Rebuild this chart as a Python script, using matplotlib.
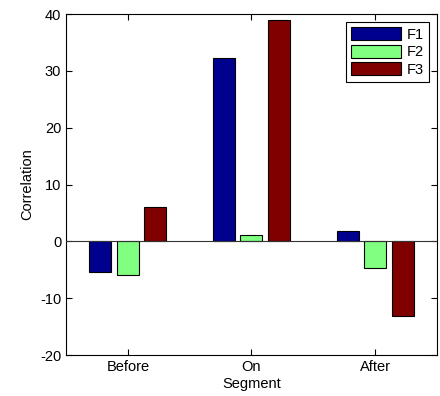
import matplotlib.pyplot as plt
import numpy as np

plt.rcParams['font.family'] = ['Liberation Sans', 'DejaVu Sans']
plt.rcParams['axes.unicode_minus'] = False

segments = ['Before', 'On', 'After']
f1 = [-5.4, 32.3, 1.8]
f2 = [-5.9, 1.2, -4.7]
f3 = [6.0, 39.0, -13.2]
series = [('F1', f1, '#00008F'), ('F2', f2, '#80FF80'), ('F3', f3, '#800000')]

fig = plt.figure(figsize=(4.4, 3.96), dpi=100)
ax = fig.add_axes([0.15, 0.1035, 0.843, 0.861])

x = np.arange(1, len(segments) + 1)
step = 0.2222
for i, (name, vals, col) in enumerate(series):
    ax.bar(x + (i - 1) * step, vals, width=0.178, color=col, edgecolor='black',
           linewidth=0.8, label=name, zorder=2)

ax.axhline(0, color='#333333', linewidth=0.8, zorder=3)

ax.set_xlim(0.5, 3.5)
ax.set_ylim(-20, 40)
ax.set_xticks(x)
ax.set_xticklabels(segments)
ax.set_yticks(np.arange(-20, 41, 10))
ax.tick_params(direction='in', top=True, right=True, labelsize=10.5, length=4)
for s in ax.spines.values():
    s.set_linewidth(0.8)

ax.set_xlabel('Segment', fontsize=10.5, labelpad=2)
ax.set_ylabel('Correlation', fontsize=10.5, labelpad=4)

leg = ax.legend(loc='upper right', fontsize=10.5, fancybox=False, edgecolor='black',
                framealpha=1, handlelength=3.4, handleheight=1.0,
                borderaxespad=0.55, labelspacing=0.2, handletextpad=0.4,
                borderpad=0.35)
leg.get_frame().set_linewidth(0.8)

plt.savefig('out.png', dpi=100)
